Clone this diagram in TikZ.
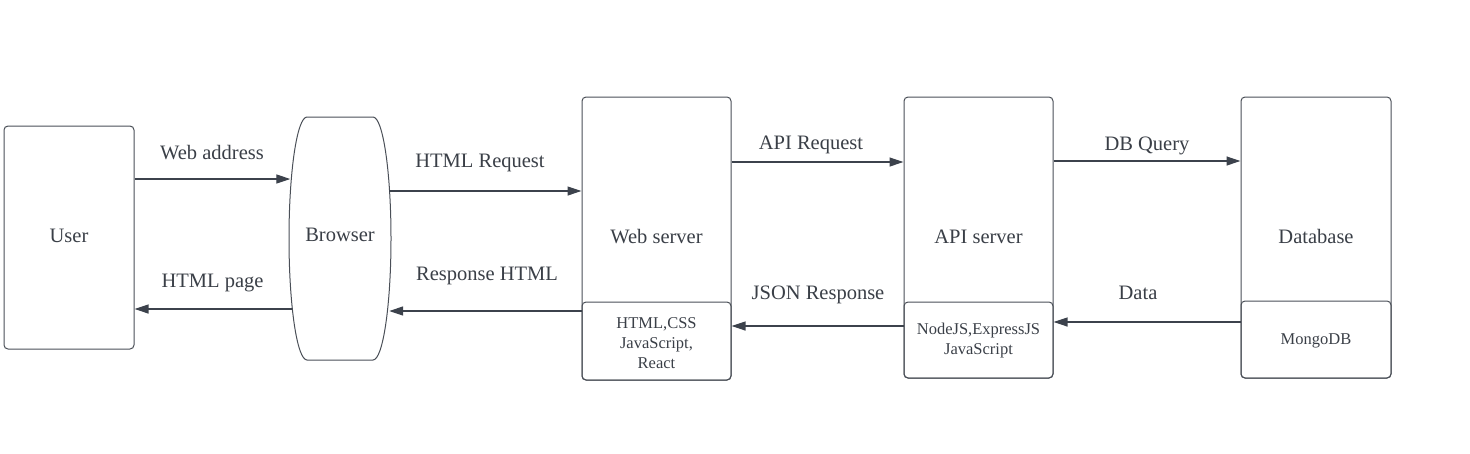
\documentclass[tikz,border=0pt]{standalone}
\usepackage{fontspec}
\setmainfont{Liberation Serif}
\usetikzlibrary{arrows.meta}
\definecolor{edge}{HTML}{3C424C}
\definecolor{boxline}{HTML}{4A4F57}
\definecolor{txt}{HTML}{3A3F47}
\tikzset{
  box/.style={draw=boxline, line width=1pt, rounded corners=4pt, rectangle, inner sep=0pt},
  techbox/.style={draw=boxline, line width=1pt, rounded corners=4pt, rectangle, inner sep=0pt},
  techtxt/.style={text=txt, align=center, inner sep=0pt, font=\fontsize{16.5}{20}\selectfont},
  lbl/.style={text=txt, font=\fontsize{20.5}{24}\selectfont, inner sep=0pt, anchor=base},
  arr/.style={draw=edge, line width=1.2pt, -{Triangle[length=14pt,width=9pt]}},
}
\begin{document}
\begin{tikzpicture}[x=1pt,y=-1pt]
\useasboundingbox (0,0) rectangle (1470,453);
% User
\node[box, minimum width=130pt, minimum height=223pt] (user) at (69,237.5) {};
\node[lbl] (usertxt) at (69,242) {User};
% Browser
\node[rectangle, inner sep=0pt, minimum width=102pt, minimum height=243pt] (browser) at (340,238.5) {};
\node[lbl] (browsertxt) at (340,241.5) {Browser};
\draw[boxline, line width=1pt] (307,117) -- (373,117)
  .. controls (382.9,117) and (391,171.4) .. (391,238.5)
  .. controls (391,305.6) and (382.9,360) .. (373,360)
  -- (307,360)
  .. controls (297.1,360) and (289,305.6) .. (289,238.5)
  .. controls (289,171.4) and (297.1,117) .. cycle;
% Web server
\node[box, minimum width=149pt, minimum height=283pt] (web) at (656.5,238.5) {};
\node[lbl] (webtxt) at (656.5,243) {Web server};
\node[techbox, minimum width=149pt, minimum height=78pt] (webtech) at (656.5,341) {};
\node[techtxt] (webtechtxt) at (656.5,343) {HTML,CSS\\JavaScript,\\React};
% API server
\node[box, minimum width=149pt, minimum height=281pt] (api) at (978.5,237.5) {};
\node[lbl] (apitxt) at (978.5,243) {API server};
\node[techbox, minimum width=149pt, minimum height=76pt] (apitech) at (978.5,340) {};
\node[techtxt] (apitechtxt) at (978.5,340.5) {NodeJS,ExpressJS\\JavaScript};
% Database
\node[box, minimum width=150pt, minimum height=281pt] (db) at (1316,237.5) {};
\node[lbl] (dbtxt) at (1316,243) {Database};
\node[techbox, minimum width=150pt, minimum height=77pt] (dbtech) at (1316,339.5) {};
\node[techtxt] (dbtechtxt) at (1316,340.5) {MongoDB};
% Arrows
\draw[arr] (user.east |- 0,179) -- ([xshift=1.5pt]browser.west |- 0,179);
\draw[arr] ([xshift=3pt]browser.west |- 0,309) -- (user.east |- 0,309);
\draw[arr] ([xshift=-2pt]browser.east |- 0,191) -- (web.west |- 0,191);
\draw[arr] (web.west |- 0,311) -- ([xshift=-2pt]browser.east |- 0,311);
\draw[arr] (web.east |- 0,162) -- (api.west |- 0,162);
\draw[arr] (api.west |- 0,326) -- (webtech.east |- 0,326);
\draw[arr] (api.east |- 0,161) -- (db.west |- 0,161);
\draw[arr] (dbtech.west |- 0,322) -- (apitech.east |- 0,322);
% Labels
\node[lbl] at (212,159) {Web address};
\node[lbl] at (212.5,287) {HTML page};
\node[lbl] at (480,167) {HTML Request};
\node[lbl] at (487,280) {Response HTML};
\node[lbl] at (811,149) {API Request};
\node[lbl] at (818,299) {JSON Response};
\node[lbl] at (1147,150.5) {DB Query};
\node[lbl] at (1138,299) {Data};
\end{tikzpicture}
\end{document}
